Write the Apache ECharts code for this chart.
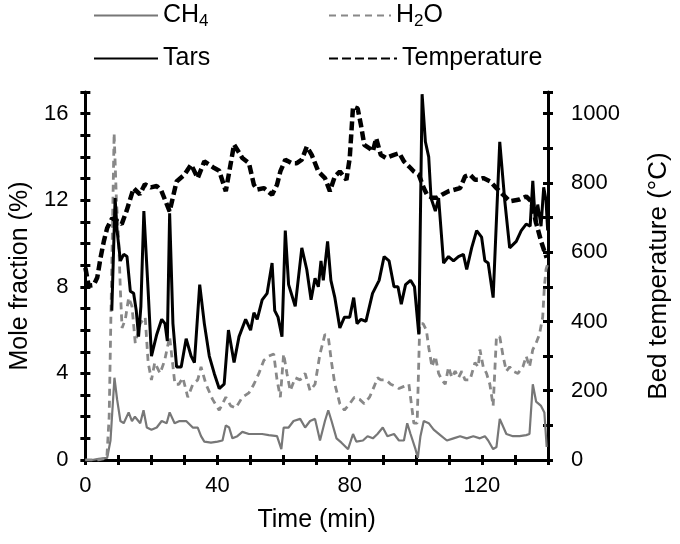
<!DOCTYPE html>
<html>
<head>
<meta charset="utf-8">
<script src="https://cdn.jsdelivr.net/npm/echarts@6/dist/echarts.min.js"></script>
<style>html,body{margin:0;padding:0;background:#fff;}#c{width:680px;height:544px;}</style>
</head>
<body>
<div id="c"></div>
<script>
// ---- data (time in min, mole fraction in %, temperature in °C) ----
const tCH4 = [0,2,4,6.6,7.6,8.8,9.6,10.6,11.6,13.1,14.1,15,16.6,17.6,18.6,20,21.6,23.1,24.6,25.5,27,28.5,30.5,32.5,34,35,36,38,40,41.5,42.5,43.5,44.5,46,47.5,49.5,51.5,53.5,55.5,58,59.3,60,61.5,63,65,66.5,68,69.5,71,72.5,73.5,74.5,76,77.5,79.5,81,82,84,85.4,87,88.4,90,91.4,93.4,94.9,96.4,97.4,98.4,99.9,100.6,101.4,102.4,103.9,105.4,107.4,109.4,111.4,113.4,115.4,117.4,119.4,120.9,121.9,123.4,124.4,125.4,127.4,129.4,131.4,133.4,134.4,135.4,136.4,137.9,138.9,139.6];
const vCH4 = [0,0,0.05,0.1,0.9,3.8,2.8,1.8,1.7,2.2,1.8,2.0,1.7,2.3,1.5,1.4,1.5,1.8,1.7,2.2,1.7,1.8,1.8,1.5,1.5,1.1,0.85,0.8,0.85,0.9,1.6,1.5,1.0,1.1,1.3,1.2,1.2,1.2,1.15,1.1,0.5,1.5,1.5,1.8,1.9,1.5,1.8,1.9,0.9,1.8,2.3,1.8,1.0,0.8,0.5,1.2,0.85,0.9,1.1,1.0,1.2,1.5,1.1,1.2,0.9,0.9,1.7,1.2,0.5,0.1,1.1,1.8,1.7,1.4,1.15,0.9,1.0,1.1,1.0,1.1,1.0,1.1,0.9,0.5,0.6,1.9,1.2,1.1,1.1,1.15,1.2,3.5,2.7,2.5,2.2,0.6];

const tH2O = [0,2,4,6.5,7.2,8.0,8.7,9.4,10.1,10.6,11.1,12.1,13.1,14.1,15.1,16.6,18.1,19,20,21,22.6,24,25.5,27.1,28.3,29.5,31,32.5,34,35,36.5,38.5,40.5,42.5,44,45.5,47.5,49.5,51,52.5,54,55.5,57,58,59,60,61,62,63.5,65,66.5,68,69.5,71,72.5,73.5,74.5,75.5,77,78.4,80,81.4,83,84.4,86,87.4,88.4,89.4,91,92.4,93.9,94.9,96.4,97.9,99.4,100.4,101.2,102.2,103.2,103.9,104.9,105.9,106.9,107.9,108.9,109.9,110.9,111.9,112.9,113.9,114.9,116.4,117.9,118.9,119.4,120.4,121.4,122.4,123.4,124.4,125.4,126.4,127.4,128.4,129.4,130.9,132.4,133.4,134.4,135.4,136.4,137.4,138.4,138.9,139.4,139.8];
const vH2O = [0,0,0,0.1,2,9,15.1,12,10.1,7.8,6.1,6.5,7.5,7.1,5.4,6.3,6.6,4.5,3.7,4.5,4.0,4.6,5.7,3.5,3.5,3.8,2.9,3.5,3.7,4.3,3.5,2.8,2.3,2.9,2.5,2.4,2.9,3.1,3.5,4.0,4.6,4.8,4.9,3.7,2.9,4.9,4.0,3.2,3.8,3.7,4.0,3.2,3.5,4.9,5.8,5.7,4.5,3.5,2.6,2.3,2.6,2.9,2.8,2.6,2.9,3.4,3.8,3.7,3.7,3.5,3.4,3.3,3.4,3.5,1.7,1.7,6.3,6.3,6.0,5.2,4.3,4.8,4.0,3.7,3.5,4.3,3.8,4.1,3.8,4.1,3.7,3.7,4.5,4.3,5.1,4.3,4.0,3.5,2.5,5.7,5.7,4.8,4.1,4.3,4.1,4.0,4.3,4.8,4.3,5.1,5.4,5.8,6.6,8.0,8.8,9.0];

const tTars = [8.0,9.0,9.6,10.6,11.6,12.6,13.6,14.6,15.4,16.1,16.8,17.7,19,20,21.6,23.1,24.1,24.8,25.5,26.5,27.6,29,30.5,32,33,34.6,36,37.5,39,40.5,42,43.3,45,46.5,48.5,50,51,52,53.5,55,56.5,57.3,58.3,59.5,60.5,61.5,63.5,65.5,67,68.3,69.5,70.5,71.3,72,73.3,74.3,75.5,77,78.4,80,81.2,82.2,83.4,84.9,86.9,88.9,90.4,91.9,93.4,94.6,95.6,96.9,98.4,99.6,100.9,101.9,102.9,103.9,104.6,105.9,106.9,108.4,109.9,111.4,112.9,114.4,115.4,116.9,118.4,119.9,120.9,121.9,123.4,125.4,126.9,128.4,130.4,131.9,133.4,134.6,135.4,136.2,136.9,137.9,138.7,139.4,139.9];
const vTars = [6.9,12.1,10.6,9.2,9.5,9.4,7.8,7.7,6.9,5.7,7.1,11.5,7.8,4.8,5.8,6.5,6.3,5.5,11.4,6.3,4.3,4.3,5.6,4.8,4.5,8.1,6.3,4.8,4.0,3.3,3.5,6.0,4.5,5.7,6.5,6.0,6.8,6.5,7.4,7.7,9.1,6.9,6.6,5.7,10.6,8.1,7.1,9.8,8.8,7.4,8.4,8.0,9.2,8.3,10.1,8.3,7.5,6.1,6.6,6.6,7.5,6.3,6.5,6.4,7.7,8.3,9.4,9.2,8.0,8.0,7.2,8.1,8.3,8.0,5.8,16.9,14.7,14.0,12.1,11.5,12.1,9.1,9.4,9.2,9.4,9.5,8.8,9.8,10.6,10.3,9.2,9.1,7.5,14.7,12.0,9.8,10.1,10.6,10.9,10.8,12.9,10.9,11.8,10.8,12.6,12.0,10.6];

const tTemp = [0,1,2.5,3.6,4.6,5.6,6.6,8.1,9.5,11,12.5,14.6,16.5,18,19.8,21.6,23,25.5,27.6,30,32,34,36,39,40.5,42.5,45,47.5,49.5,51,52,54,56.5,58,59,60.5,62.5,64,65.5,67,68.5,70.5,72.5,74,75.5,77,79,80,81,82.4,83.4,84.4,86,87,88,89.4,91,93.4,95,96.4,98.4,99.4,100.9,102.4,103.4,104.9,106.4,107.9,109.9,111.9,113.4,114.9,116.4,117.9,118.9,120.4,122.4,124.4,126.4,128.4,131.4,133.4,134.9,136.4,137.9,138.9,139.6];
const vTemp = [555,503,505,527,584,632,670,698,690,681,720,785,767,796,787,791,777,718,804,824,853,814,862,843,835,776,911,872,857,795,781,785,766,795,833,867,857,857,867,905,881,833,814,776,819,833,809,872,1020,1015,967,910,900,891,929,881,872,881,886,862,843,833,824,785,766,757,757,766,776,781,785,819,824,809,809,814,805,785,766,747,752,761,747,685,632,603,584];

const xTickLabels = [0, 40, 80, 120];
const leftTickLabels = [0, 4, 8, 12, 16];
const rightTickLabels = [0, 200, 400, 600, 800, 1000];
const seriesNames = ['CH4', 'H2O', 'Tars', 'Temperature'];

const zip = (a, b) => a.map((t, i) => [t, b[i]]);
const FONT = 'Liberation Sans, Arial, sans-serif';
const AX = {color: '#000', width: 3};

const chart = echarts.init(document.getElementById('c'), null, {renderer: 'canvas'});

const legendRich = {
  n: {fontSize: 25, fontFamily: FONT, color: '#000'},
  s: {fontSize: 17, fontFamily: FONT, color: '#000', padding: [12, 0, 0, 0]}
};
const legendFmt = function (name) {
  if (name === 'CH4') return '{n|CH}{s|4}';
  if (name === 'H2O') return '{n|H}{s|2}{n|O}';
  return '{n|' + name + '}';
};
function mkLegend(name, left, top, w) {
  return {
    data: [name], left: left, top: top, itemWidth: w, itemHeight: 14, itemGap: 0,
    padding: 0, formatter: legendFmt,
    itemStyle: {opacity: 0},
    textStyle: {fontSize: 25, fontFamily: FONT, color: '#000', rich: legendRich}
  };
}

const option = {
  animation: false,
  backgroundColor: '#fff',
  grid: {left: 83, right: 130, top: 92, bottom: 84, containLabel: false},
  legend: [
    mkLegend(seriesNames[0], 93, 3, 64),
    mkLegend(seriesNames[1], 328, 3, 62),
    mkLegend(seriesNames[2], 93, 46, 64),
    mkLegend(seriesNames[3], 328, 46, 68)
  ],
  xAxis: [{
    type: 'value', min: 0, max: 140, interval: 10, position: 'bottom',
    name: 'Time (min)', nameLocation: 'middle', nameGap: 48,
    nameTextStyle: {fontSize: 25, fontFamily: FONT, color: '#000'},
    axisLine: {show: true, onZero: false, lineStyle: AX},
    axisTick: {show: true, length: 5, lineStyle: AX},
    axisLabel: {fontSize: 22, fontFamily: FONT, color: '#000', margin: 15,
      formatter: v => (xTickLabels.indexOf(v) >= 0 ? String(v) : '')},
    splitLine: {show: false}
  }, {
    type: 'value', min: 0, max: 140, interval: 10, position: 'bottom',
    axisLine: {show: false, onZero: false}, axisLabel: {show: false}, splitLine: {show: false},
    axisTick: {show: true, inside: true, length: 5, lineStyle: AX}
  }],
  yAxis: [{
    type: 'value', min: 0, max: 17, interval: 1, position: 'left',
    name: 'Mole fraction (%)', nameLocation: 'middle', nameGap: 52, nameRotate: 90,
    nameTextStyle: {fontSize: 25, fontFamily: FONT, color: '#000'},
    axisLine: {show: true, onZero: false, lineStyle: AX},
    axisTick: {show: true, length: 5, lineStyle: AX},
    axisLabel: {fontSize: 22, fontFamily: FONT, color: '#000', margin: 17,
      formatter: v => (leftTickLabels.indexOf(v) >= 0 ? String(v) : '')},
    splitLine: {show: false}
  }, {
    type: 'value', min: 0, max: 1062.5, interval: 100, position: 'right',
    name: 'Bed temperature (°C)', nameLocation: 'middle', nameGap: 98, nameRotate: 90,
    nameTextStyle: {fontSize: 26, fontFamily: FONT, color: '#000'},
    axisLine: {show: true, onZero: false, lineStyle: AX},
    axisTick: {show: true, length: 5, lineStyle: AX},
    axisLabel: {fontSize: 22, fontFamily: FONT, color: '#000', margin: 23,
      formatter: v => (rightTickLabels.indexOf(v) >= 0 ? String(v) : '')},
    splitLine: {show: false}
  }, {
    type: 'value', min: 0, max: 17, interval: 1, position: 'left',
    axisLine: {show: false, onZero: false}, axisLabel: {show: false}, splitLine: {show: false},
    axisTick: {show: true, inside: true, length: 5, lineStyle: AX}
  }, {
    type: 'value', min: 0, max: 1062.5, interval: 100, position: 'right',
    axisLine: {show: false, onZero: false}, axisLabel: {show: false}, splitLine: {show: false},
    axisTick: {show: true, inside: true, length: 5, lineStyle: AX}
  }],
  series: [{
    name: seriesNames[0], type: 'line', xAxisIndex: 0, yAxisIndex: 0,
    data: zip(tCH4, vCH4), symbol: 'none', showSymbol: false,
    lineStyle: {color: '#777', width: 2.2}, itemStyle: {color: '#777'}
  }, {
    name: seriesNames[1], type: 'line', xAxisIndex: 0, yAxisIndex: 0,
    data: zip(tH2O, vH2O), symbol: 'none', showSymbol: false,
    lineStyle: {color: '#888', width: 2.8, type: [7, 5]}, itemStyle: {color: '#888'}
  }, {
    name: seriesNames[2], type: 'line', xAxisIndex: 0, yAxisIndex: 0,
    data: zip(tTars, vTars), symbol: 'none', showSymbol: false,
    lineStyle: {color: '#000', width: 3}, itemStyle: {color: '#000'}
  }, {
    name: seriesNames[3], type: 'line', xAxisIndex: 0, yAxisIndex: 1,
    data: zip(tTemp, vTemp), symbol: 'none', showSymbol: false,
    lineStyle: {color: '#000', width: 4.5, type: [9, 4]}, itemStyle: {color: '#000'}
  }]
};
chart.setOption(option);
</script>
</body>
</html>
